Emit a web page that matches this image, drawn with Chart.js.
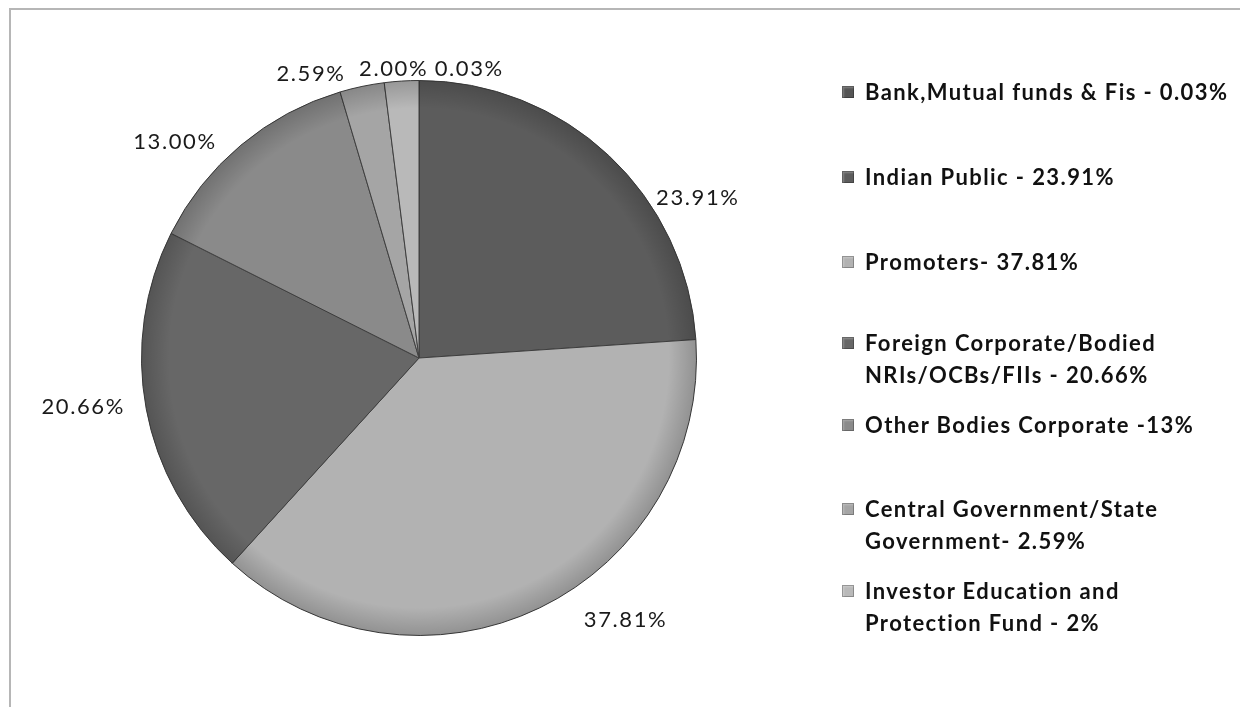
<!DOCTYPE html>
<html lang="en">
<head>
<meta charset="utf-8" />
<title>Shareholding Pattern</title>
<style>
body{margin:0;background:#fff;font-family:Lato,"Open Sans",Arial,sans-serif;}
#wrap{position:relative;width:1240px;height:707px;overflow:hidden;}
#frame{position:absolute;left:9px;top:8px;width:1300px;height:800px;border-top:2px solid #b6b6b6;border-left:2px solid #b6b6b6;}
#pie{position:absolute;left:0;top:0;}
#legend{position:absolute;left:842px;top:0;width:398px;}
.item{position:absolute;left:0;display:flex;align-items:flex-start;}
.swatch{width:12px;height:12px;margin-top:10px;margin-right:11px;flex:none;
    box-shadow:inset 0 0 0 1px rgba(0,0,0,.25),inset 2px 2px 2px rgba(255,255,255,.25);}
.txt{font-weight:bold;font-size:22px;letter-spacing:1.4px;line-height:32px;color:#111;white-space:nowrap;}
</style>
</head>
<body>
<div id="wrap">
    <div id="frame"></div>
    <canvas id="pie" width="1240" height="707"></canvas>
    <div id="legend"></div>
</div>

<script src="https://cdn.jsdelivr.net/npm/chart.js@4.4.1"></script>
<script>
/* ─────────── data ─────────── */
const categories = [
    'Bank,Mutual funds & Fis',
    'Indian Public',
    'Promoters',
    'Foreign Corporate/Bodied NRIs/OCBs/FIIs',
    'Other Bodies Corporate',
    'Central Government/State Government',
    'Investor Education and Protection Fund'
];
const shares = [0.03, 23.91, 37.81, 20.66, 13.00, 2.59, 2.00];
const legendTexts = [
    ['Bank,Mutual funds & Fis - 0.03%'],
    ['Indian Public - 23.91%'],
    ['Promoters- 37.81%'],
    ['Foreign Corporate/Bodied','NRIs/OCBs/FIIs - 20.66%'],
    ['Other Bodies Corporate -13%'],
    ['Central Government/State','Government- 2.59%'],
    ['Investor Education and','Protection Fund - 2%']
];

/* ─────────── styles ─────────── */
const colors = ['#555555','#5c5c5c','#b2b2b2','#676767','#8a8a8a','#a5a5a5','#b9b9b9'];
/* label offsets from the arc's outer mid point */
const labelNudge = [[50,-12],[89,42],[86,12],[-63,-2],[-66,-3],[-51,-13],[-8,-12]];

const outsideLabels = {
    id:'outsideLabels',
    afterDatasetsDraw(chart){
        const {ctx} = chart;
        const meta = chart.getDatasetMeta(0);
        const data = chart.data.datasets[0].data;
        ctx.save();
        ctx.font = '22px Lato, "Open Sans", Arial, sans-serif';
        ctx.letterSpacing = '1.6px';
        ctx.fillStyle = '#1a1a1a';
        ctx.textAlign = 'center';
        ctx.textBaseline = 'middle';
        meta.data.forEach((arc,i)=>{
            const mid = (arc.startAngle + arc.endAngle)/2;
            const x = arc.x + arc.outerRadius*Math.cos(mid);
            const y = arc.y + arc.outerRadius*Math.sin(mid);
            ctx.fillText(data[i].toFixed(2)+'%', x+labelNudge[i][0], y+labelNudge[i][1]);
        });
        ctx.restore();
    }
};

/* soft shading to hint at the bevelled look */
const shade = {
    id:'shade',
    afterDatasetsDraw(chart){
        const arc = chart.getDatasetMeta(0).data[0];
        if(!arc) return;
        const {ctx} = chart;
        const r = arc.outerRadius;
        ctx.save();
        const g = ctx.createRadialGradient(arc.x, arc.y, r*0.9, arc.x, arc.y, r);
        g.addColorStop(0,'rgba(0,0,0,0)');
        g.addColorStop(1,'rgba(0,0,0,0.18)');
        ctx.fillStyle = g;
        ctx.beginPath();
        ctx.arc(arc.x, arc.y, r, 0, Math.PI*2);
        ctx.fill();
        ctx.restore();
    }
};

Chart.defaults.animation = false;

new Chart(document.getElementById('pie'),{
    type:'pie',
    data:{
        labels:categories,
        datasets:[{
            data:shares,
            backgroundColor:colors,
            borderColor:'#3e3e3e',
            borderWidth:1
        }]
    },
    options:{
        responsive:false,
        layout:{padding:{left:141,top:80,right:543,bottom:71}},
        plugins:{legend:{display:false},tooltip:{enabled:false}}
    },
    plugins:[shade, outsideLabels]
});

/* ─────────── legend ─────────── */
const legend = document.getElementById('legend');
const rowTops = [76, 161, 246, 327, 409, 493, 575];
legendTexts.forEach((lines,i)=>{
    const item = document.createElement('div');
    item.className = 'item';
    item.style.top = rowTops[i]+'px';
    const sw = document.createElement('span');
    sw.className = 'swatch';
    sw.style.backgroundColor = colors[i];
    const tx = document.createElement('div');
    tx.className = 'txt';
    tx.innerHTML = lines.join('<br>');
    item.appendChild(sw); item.appendChild(tx);
    legend.appendChild(item);
});
</script>
</body>
</html>
